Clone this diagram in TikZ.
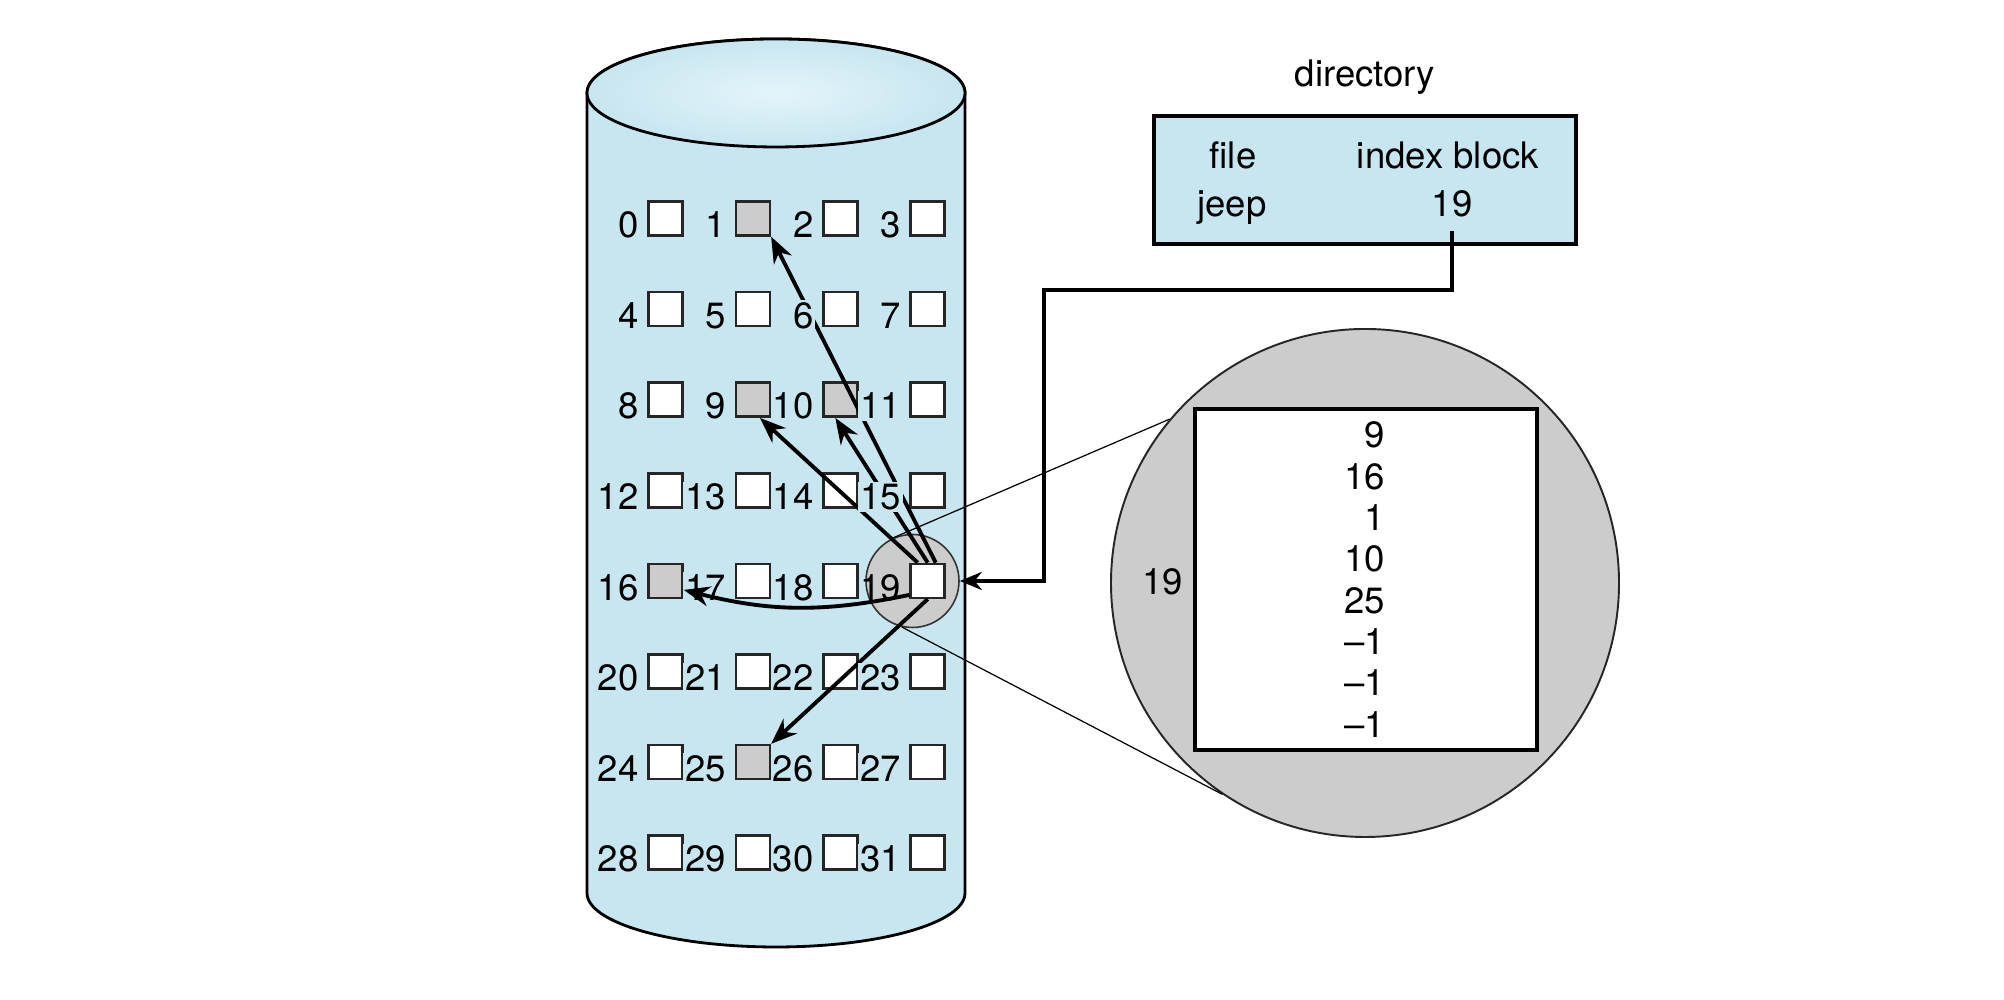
\documentclass[tikz,border=0pt]{standalone}
\usepackage{fontspec}
\setmainfont{TeX Gyre Heros}
\usetikzlibrary{arrows.meta, positioning}
\definecolor{diskblue}{RGB}{199,230,240}
\definecolor{disktop}{RGB}{228,244,250}
\colorlet{usedgray}{black!20}

\tikzset{
  blk/.style={draw=black!85, line width=0.7pt, fill=white, minimum size=0.34cm, inner sep=0pt},
  blknum/.style={anchor=base east, inner xsep=0.02cm, inner ysep=0.02cm, fill=diskblue},
  ptr/.style={-{Stealth[length=2.6mm, width=2mm]}, line width=1.1pt},
  zoomline/.style={line width=0.35pt},
  plain/.style={inner sep=0pt},
}

\begin{document}
\begin{tikzpicture}[>=Stealth, font=\fontsize{10.4pt}{12pt}\selectfont]
    \useasboundingbox (0,0) rectangle (20.04,10);

    % disk
    \draw[fill=diskblue, line width=0.8pt] (5.87,9.07) -- (5.87,1.07)
      arc[start angle=180, end angle=360, x radius=1.89, y radius=0.54]
      -- (9.65,9.07)
      arc[start angle=0, end angle=180, x radius=1.89, y radius=0.54] -- cycle;
    \draw[line width=0.8pt, inner color=disktop, outer color=diskblue] (7.76,9.07) ellipse [x radius=1.89, y radius=0.54];

    % zoom ring round block 19
    \node[circle, draw=black!80, fill=usedgray, line width=0.45pt, minimum size=0.93cm] (zoomc) at (9.125,4.19) {};

    % blocks
    \foreach \n in {0,...,31} {
      \pgfmathtruncatemacro\col{mod(\n,4)}
      \pgfmathtruncatemacro\row{\n/4}
      \pgfmathtruncatemacro\used{(\n==1)||(\n==9)||(\n==10)||(\n==16)||(\n==25)}
      \ifnum\used=1 \def\blkfill{usedgray}\else\def\blkfill{white}\fi
      \node[blk, fill=\blkfill] (b\n) at ({6.655+0.874*\col}, {7.815-0.906*\row}) {};
    }

    % pointers held in index block 19
    \draw[ptr] ([xshift=-0.10cm]b19.north) -- ([xshift=0.07cm]b9.south);
    \draw[ptr] (b19.north) -- ([xshift=-0.05cm]b10.south);
    \draw[ptr] ([xshift=0.08cm]b19.north) -- (b1.south east);
    \draw[ptr] (b19.south) -- (b25.north east);

    % block numbers
    \foreach \n in {0,...,31} {
      \ifnum\n=19 \def\numfill{none}\else\def\numfill{diskblue}\fi
      \node[blknum, fill=\numfill] at ([xshift=-0.06cm, yshift=-0.01cm]b\n.south west) {\n};
    }
    \draw[ptr] ([yshift=-0.14cm]b19.west) to[bend left=13] ([yshift=-0.09cm]b16.east);

    % directory
    \node[anchor=base] (dirtitle) at (13.65,9.13) {directory};
    \node[draw, line width=1pt, fill=diskblue, minimum width=4.22cm, minimum height=1.28cm, inner sep=0pt] (dir) at (13.65,8.20) {};
    \node[anchor=base] (hfile) at (12.33,8.31) {file};
    \node[anchor=base] (hindex) at (14.48,8.31) {index block};
    \node[anchor=base] (fname) at (12.32,7.83) {jeep};
    \node[anchor=base] (fidx) at (14.52,7.83) {19};
    \coordinate (elbow) at (10.44,7.10);
    \draw[line width=1pt, -{Stealth[length=2.2mm, width=1.8mm]}] ([yshift=-0.01cm]fidx.south) |- (elbow) |- (zoomc.east);

    % index block, enlarged
    \node[circle, draw=black!85, fill=usedgray, line width=0.55pt, minimum size=5.08cm] (bigc) at (13.65,4.17) {};
    \node[draw, line width=1.1pt, fill=white, minimum width=3.42cm, minimum height=3.41cm, inner sep=0pt] (idx) at (13.66,4.205) {};
    \foreach \v [count=\i from 0] in {9,16,1,10,25,\textendash1,\textendash1,\textendash1}
      \node[plain, anchor=base east] (e\i) at (13.86, {5.52-0.413*\i}) {\v};
    \node[plain, anchor=base east] (idxlbl) at (11.84,4.055) {19};

    \draw[zoomline] (zoomc.114) -- (bigc.140);
    \draw[zoomline] (zoomc.257) -- (bigc.236);
  \end{tikzpicture}
\end{document}
